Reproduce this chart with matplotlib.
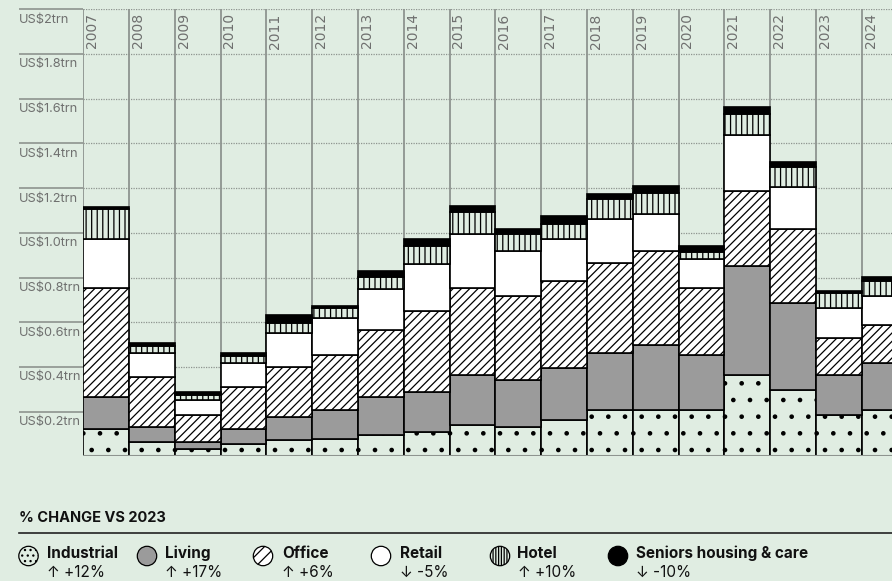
import matplotlib
matplotlib.use('Agg')
import numpy as np
import matplotlib.pyplot as plt
from matplotlib.patches import Circle
from matplotlib.transforms import blended_transform_factory

# annual investment volumes, US$ trillion, by sector
years = ['2007', '2008', '2009', '2010', '2011', '2012', '2013', '2014', '2015',
         '2016', '2017', '2018', '2019', '2020', '2021', '2022', '2023', '2024']
industrial = [0.121, 0.063, 0.031, 0.054, 0.073, 0.076, 0.097, 0.107, 0.140,
              0.131, 0.164, 0.207, 0.207, 0.207, 0.362, 0.297, 0.185, 0.207]
living = [0.143, 0.067, 0.032, 0.067, 0.101, 0.131, 0.167, 0.179, 0.222,
          0.210, 0.232, 0.254, 0.290, 0.245, 0.489, 0.388, 0.177, 0.212]
office = [0.488, 0.223, 0.123, 0.188, 0.224, 0.246, 0.300, 0.364, 0.390,
          0.378, 0.388, 0.403, 0.422, 0.300, 0.335, 0.332, 0.169, 0.167]
retail = [0.220, 0.108, 0.065, 0.110, 0.152, 0.164, 0.186, 0.210, 0.243,
          0.198, 0.188, 0.196, 0.164, 0.132, 0.252, 0.187, 0.131, 0.131]
hotel = [0.133, 0.034, 0.023, 0.031, 0.045, 0.045, 0.054, 0.081, 0.099,
         0.079, 0.069, 0.090, 0.094, 0.031, 0.092, 0.092, 0.067, 0.067]
seniors = [0.012, 0.013, 0.012, 0.014, 0.036, 0.012, 0.026, 0.033, 0.025,
           0.021, 0.034, 0.024, 0.032, 0.026, 0.031, 0.022, 0.011, 0.020]

sectors = ['Industrial', 'Living', 'Office', 'Retail', 'Hotel',
           'Seniors housing & care']
changes = ['↑ +12%', '↑ +17%', '↑ +6%', '↓ -5%', '↑ +10%', '↓ -10%']

yticks = [0.2, 0.4, 0.6, 0.8, 1.0, 1.2, 1.4, 1.6, 1.8, 2.0]
ytick_labels = ['US$0.2trn', 'US$0.4trn', 'US$0.6trn', 'US$0.8trn', 'US$1.0trn',
                'US$1.2trn', 'US$1.4trn', 'US$1.6trn', 'US$1.8trn', 'US$2trn']

BG = '#e0ede2'
GRID = '#8e948f'
GREY_TXT = '#6f706f'

plt.rcParams['font.family'] = ['Inter', 'DejaVu Sans']
plt.rcParams['hatch.linewidth'] = 0.9

# fill colour / hatch for each stacked series
series = [industrial, living, office, retail, hotel, seniors]
fills = [BG, '#9b9b9b', 'white', 'white', BG, 'black']
hatches = ['.', None, '////', None, '|||', None]
icon_hatches = ['...', None, '///', None, '||||||', None]

W, H = 892, 581
fig = plt.figure(figsize=(W / 100, H / 100), dpi=100, facecolor=BG)

x0, col_w = 83.3, 45.8      # left edge of the plot and width of a year column
y_top, y_base = 9.3, 456.3
ax = fig.add_axes([x0 / W, 1 - y_base / H, (W - x0) / W, (y_base - y_top) / H])
ax.set_facecolor(BG)
ax.set_xlim(-0.5, -0.5 + (W - x0) / col_w)
ax.set_ylim(0, 2.0)
for s in ax.spines.values():
    s.set_visible(False)
ax.set_xticks([])
ax.set_yticks([])

x = np.arange(len(years))
bottom = np.zeros(len(years))
for vals, fc, h in zip(series, fills, hatches):
    ax.bar(x, vals, width=1.0, bottom=bottom, color=fc, edgecolor='black',
           linewidth=1.2, hatch=h, zorder=3)
    bottom += np.array(vals)

# column separators and dotted gridlines
for b in np.arange(-0.5, len(years), 1):
    ax.axvline(b, color=GRID, lw=1.3, zorder=1)
for v in yticks:
    ax.axhline(v, color=GRID, lw=0.9, ls=(0, (1, 1)), zorder=0)
ax.axhline(0, color=GRID, lw=1.5, zorder=4)

# y labels sit in the margin, under a short solid rule
trans = blended_transform_factory(fig.transFigure, ax.transData)
for v, lab in zip(yticks, ytick_labels):
    ax.plot([19 / W, x0 / W], [v, v], color=GRID, lw=1.2, transform=trans,
            clip_on=False, solid_capstyle='butt')
    ax.text(19 / W, v - 4.5 / 223.5, lab, transform=trans, ha='left', va='top',
            fontsize=9.2, color=GREY_TXT)

for i, yr in enumerate(years):
    ax.text(i - 0.5 + 8.7 / col_w, 2.0 - 4 / 223.5, yr, rotation=90, ha='center',
            va='top', fontsize=10, color=GREY_TXT, family='DejaVu Sans')

# legend block
lax = fig.add_axes([0, 0, 1, 1])
lax.set_xlim(0, W)
lax.set_ylim(H, 0)
lax.axis('off')

lax.text(19, 522.5, '% CHANGE VS 2023', fontsize=10.5, fontweight='bold',
         ha='left', va='baseline', color='#111111')
lax.plot([19, W], [533, 533], color='#222222', lw=1.2)

icon_x = [28.5, 147, 263, 381, 500, 618]
text_x = [47, 165, 282.5, 400, 517.5, 636]
for k in range(len(sectors)):
    lax.add_patch(Circle((icon_x[k], 556), 9.7, facecolor=fills[k],
                         edgecolor='black', lw=0.9, hatch=icon_hatches[k]))
    lax.text(text_x[k], 558, sectors[k], fontsize=11, fontweight='bold',
             ha='left', va='baseline', color='#111111')
    lax.text(text_x[k], 577, changes[k], fontsize=11, ha='left',
             va='baseline', color='#111111')

fig.savefig('out.png', dpi=100, facecolor=BG)
